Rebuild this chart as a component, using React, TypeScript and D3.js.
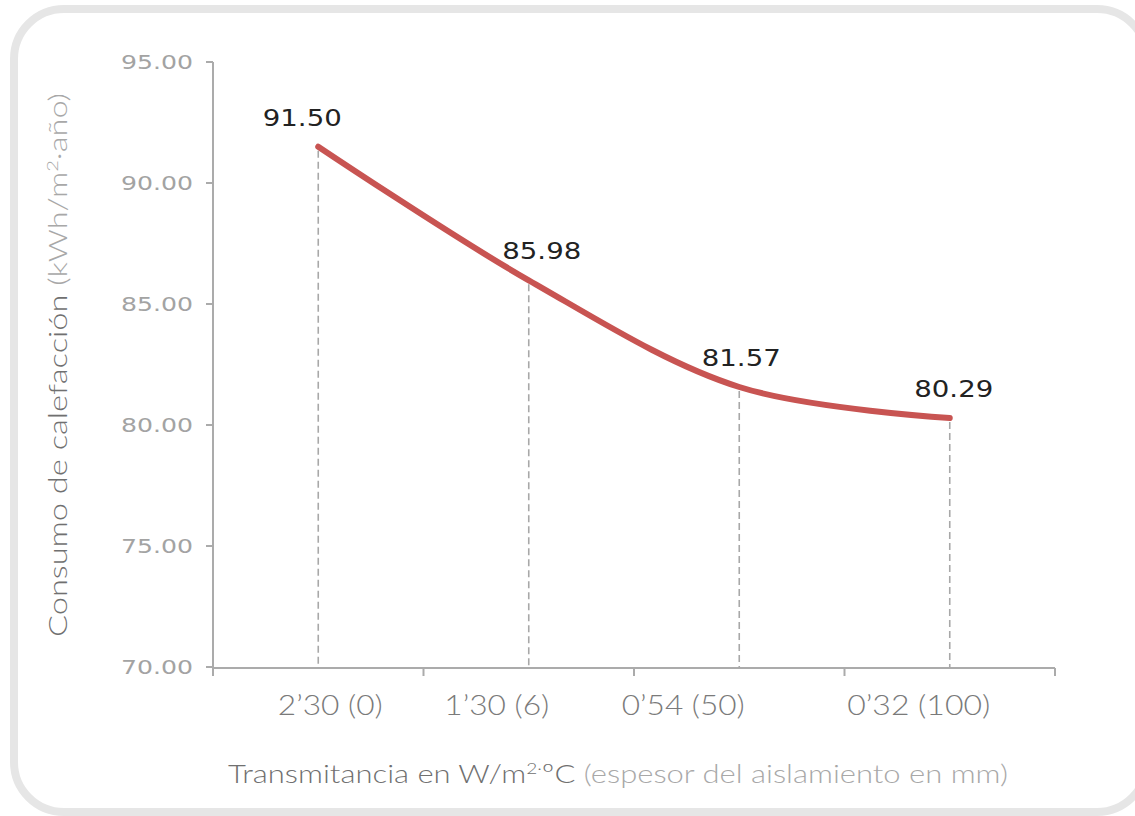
import React from "react";
import * as d3 from "d3";

const categories = ["2’30 (0)", "1’30 (6)", "0’54 (50)", "0’32 (100)"];
const values = [91.5, 85.98, 81.57, 80.29];
const valueLabels = ["91.50", "85.98", "81.57", "80.29"];
const yTicks = [70, 75, 80, 85, 90, 95];

// layout-only offsets (pixels)
const labelDx = [-16, 13, 2, 4];
const catLabelDx = [12, -32, -56, -31];
const catLabelW = [105, 105, 123, 143];

const W = 1135;
const H = 816;
const M = { left: 213, right: 1055, top: 62, bottom: 667 };

export default function App() {
  const x = d3.scaleBand<string>().domain(categories).range([M.left, M.right]);
  const y = d3.scaleLinear().domain([70, 95]).range([M.bottom, M.top]);
  const cx = (c: string) => (x(c) as number) + x.bandwidth() / 2;
  const pts: [number, number][] = categories.map((c, i) => [cx(c), y(values[i])]);
  const line = d3.line().curve(d3.curveCatmullRom.alpha(0.5))(pts) as string;
  const boundaries = [...categories.map((c) => x(c) as number), M.right];

  const axisColor = "#ababab";
  const numFont = "'DejaVu Sans', sans-serif";
  const titleFont = "Lato, 'Open Sans', sans-serif";
  const dark = "#707070";
  const light = "#a8a8a8";

  return (
    <svg width={W} height={H} style={{ position: "absolute", left: 0, top: 0, background: "#fff" }}>
      <rect x={14} y={9} width={1133} height={803} rx={50} ry={50} fill="#fff" stroke="#e6e6e6" strokeWidth={8} />

      {/* y axis */}
      <line x1={M.left} x2={M.left} y1={M.top} y2={M.bottom + 9} stroke={axisColor} strokeWidth={2} />
      {yTicks.map((t) => (
        <g key={t}>
          <line x1={M.left - 7} x2={M.left} y1={y(t)} y2={y(t)} stroke={axisColor} strokeWidth={2} />
          <text
            x={193}
            y={y(t)}
            dy="0.36em"
            textAnchor="end"
            fontFamily={numFont}
            fontSize={19}
            fill="#a3a3a3"
            textLength={72}
            lengthAdjust="spacingAndGlyphs"
          >
            {t.toFixed(2)}
          </text>
        </g>
      ))}

      {/* x axis */}
      <line x1={M.left} x2={M.right} y1={M.bottom + 1} y2={M.bottom + 1} stroke={axisColor} strokeWidth={2} />
      {boundaries.map((b, i) => (
        <line key={i} x1={b} x2={b} y1={M.bottom + 1} y2={M.bottom + 9} stroke={axisColor} strokeWidth={2} />
      ))}

      {/* dashed drop lines */}
      {pts.map(([px, py], i) => (
        <line
          key={i}
          x1={px}
          x2={px}
          y1={py + 4}
          y2={M.bottom + 1}
          stroke="#a8a8a8"
          strokeWidth={1.6}
          strokeDasharray="7,4"
        />
      ))}

      {/* curve */}
      <path d={line} fill="none" stroke="#c85452" strokeWidth={6} strokeLinecap="round" />

      {/* value labels */}
      {pts.map(([px, py], i) => (
        <text
          key={i}
          x={px + labelDx[i]}
          y={py - 21}
          textAnchor="middle"
          fontFamily={numFont}
          fontSize={23}
          fill="#222"
          textLength={79}
          lengthAdjust="spacingAndGlyphs"
        >
          {valueLabels[i]}
        </text>
      ))}

      {/* category labels */}
      {categories.map((c, i) => (
        <text
          key={c}
          x={cx(c) + catLabelDx[i] - catLabelW[i] / 2}
          y={715}
          fontFamily={titleFont}
          fontWeight={300}
          fontSize={27}
          fill="#7a7a7a"
          textLength={catLabelW[i]}
          lengthAdjust="spacingAndGlyphs"
        >
          {c}
        </text>
      ))}

      {/* x title */}
      <text x={228} y={783} fontFamily={titleFont} fontWeight={300} fontSize={26} textLength={780} lengthAdjust="spacingAndGlyphs">
        <tspan fill={dark}>Transmitancia en W/m</tspan>
        <tspan fill={dark} fontSize={16} dy={-9}>2·</tspan>
        <tspan fill={dark} dy={9}>ºC</tspan>
        <tspan fill={light}> (espesor del aislamiento en mm)</tspan>
      </text>

      {/* y title */}
      <text
        transform="translate(67,637) rotate(-90)"
        x={0}
        y={0}
        fontFamily={titleFont}
        fontWeight={300}
        fontSize={26}
        textLength={544}
        lengthAdjust="spacingAndGlyphs"
      >
        <tspan fill={dark}>Consumo de calefacción </tspan>
        <tspan fill={light}>(kWh/m</tspan>
        <tspan fill={light} fontSize={16} dy={-9}>2</tspan>
        <tspan fill={light} dy={9}>·año)</tspan>
      </text>
    </svg>
  );
}
